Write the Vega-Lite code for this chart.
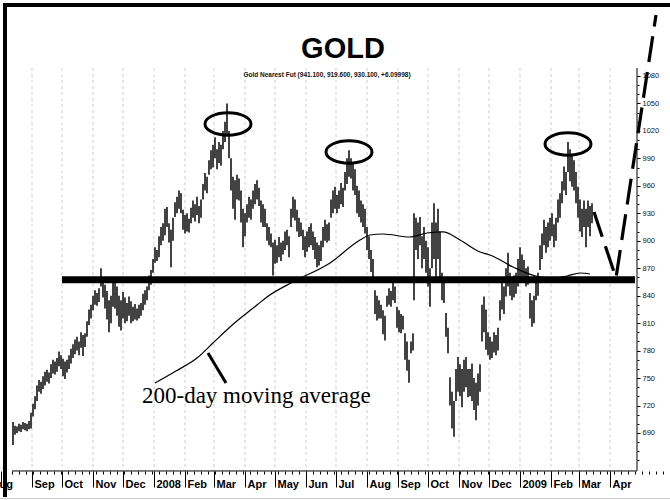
{
  "$schema": "https://vega.github.io/schema/vega-lite/v6.json",
  "width": 670,
  "height": 500,
  "autosize": {"type": "none"},
  "padding": 0,
  "background": "white",
  "config": {"view": {"stroke": null}},
  "title": {"text": "GOLD", "font": "Liberation Sans", "fontSize": 29, "fontWeight": "bold", "color": "black", "anchor": "middle", "frame": "group", "offset": -64, "dx": 8},
  "datasets": {
    "months": [
      {"m": "2007-09-01"}, {"m": "2007-10-01"}, {"m": "2007-11-01"}, {"m": "2007-12-01"},
      {"m": "2008-01-01"}, {"m": "2008-02-01"}, {"m": "2008-03-01"}, {"m": "2008-04-01"},
      {"m": "2008-05-01"}, {"m": "2008-06-01"}, {"m": "2008-07-01"}, {"m": "2008-08-01"},
      {"m": "2008-09-01"}, {"m": "2008-10-01"}, {"m": "2008-11-01"}, {"m": "2008-12-01"},
      {"m": "2009-01-01"}, {"m": "2009-02-01"}, {"m": "2009-03-01"}, {"m": "2009-04-01"}
    ],
    "px": [
      {"d":"2007-08-13","h":702,"l":677},{"d":"2007-08-15","h":698,"l":688},{"d":"2007-08-17","h":697,"l":690},
      {"d":"2007-08-19","h":700,"l":692},{"d":"2007-08-21","h":699,"l":691},{"d":"2007-08-23","h":702,"l":694},
      {"d":"2007-08-25","h":701,"l":693},{"d":"2007-08-27","h":700,"l":692},{"d":"2007-08-29","h":703,"l":694},
      {"d":"2007-08-31","h":712,"l":695},{"d":"2007-09-02","h":722,"l":708},{"d":"2007-09-04","h":730,"l":716},
      {"d":"2007-09-06","h":742,"l":725},{"d":"2007-09-08","h":748,"l":735},{"d":"2007-09-10","h":746,"l":733},
      {"d":"2007-09-12","h":752,"l":738},{"d":"2007-09-14","h":757,"l":742},{"d":"2007-09-16","h":759,"l":746},
      {"d":"2007-09-18","h":756,"l":744},{"d":"2007-09-20","h":765,"l":750},{"d":"2007-09-22","h":770,"l":755},
      {"d":"2007-09-24","h":768,"l":754},{"d":"2007-09-26","h":772,"l":757},{"d":"2007-09-28","h":779,"l":763},
      {"d":"2007-09-30","h":775,"l":760},{"d":"2007-10-02","h":771,"l":752},{"d":"2007-10-04","h":768,"l":749},
      {"d":"2007-10-06","h":770,"l":756},{"d":"2007-10-08","h":775,"l":760},{"d":"2007-10-10","h":782,"l":766},
      {"d":"2007-10-12","h":787,"l":772},{"d":"2007-10-14","h":792,"l":776},{"d":"2007-10-16","h":795,"l":780},
      {"d":"2007-10-18","h":790,"l":775},{"d":"2007-10-20","h":800,"l":783},{"d":"2007-10-22","h":797,"l":774},
      {"d":"2007-10-24","h":799,"l":784},{"d":"2007-10-26","h":812,"l":795},{"d":"2007-10-28","h":825,"l":808},
      {"d":"2007-10-30","h":830,"l":815},{"d":"2007-11-01","h":840,"l":824},{"d":"2007-11-03","h":846,"l":830},
      {"d":"2007-11-05","h":843,"l":829},{"d":"2007-11-07","h":848,"l":833},{"d":"2007-11-09","h":870,"l":850},
      {"d":"2007-11-11","h":860,"l":838},{"d":"2007-11-13","h":852,"l":826},{"d":"2007-11-15","h":845,"l":814},
      {"d":"2007-11-17","h":835,"l":800},{"d":"2007-11-19","h":840,"l":810},{"d":"2007-11-21","h":854,"l":828},
      {"d":"2007-11-23","h":857,"l":826},{"d":"2007-11-25","h":850,"l":818},{"d":"2007-11-27","h":840,"l":806},
      {"d":"2007-11-29","h":835,"l":802},{"d":"2007-12-01","h":844,"l":815},{"d":"2007-12-03","h":838,"l":810},
      {"d":"2007-12-05","h":832,"l":812},{"d":"2007-12-07","h":839,"l":818},{"d":"2007-12-09","h":834,"l":810},
      {"d":"2007-12-11","h":828,"l":812},{"d":"2007-12-13","h":831,"l":814},{"d":"2007-12-15","h":826,"l":813},
      {"d":"2007-12-17","h":830,"l":815},{"d":"2007-12-19","h":832,"l":818},{"d":"2007-12-21","h":842,"l":824},
      {"d":"2007-12-23","h":846,"l":830},{"d":"2007-12-25","h":850,"l":835},{"d":"2007-12-27","h":862,"l":846},
      {"d":"2007-12-29","h":868,"l":852},{"d":"2007-12-31","h":880,"l":865},{"d":"2008-01-02","h":893,"l":876},
      {"d":"2008-01-04","h":890,"l":878},{"d":"2008-01-06","h":905,"l":882},{"d":"2008-01-08","h":915,"l":895},
      {"d":"2008-01-10","h":919,"l":900},{"d":"2008-01-12","h":935,"l":906},{"d":"2008-01-14","h":937,"l":915},
      {"d":"2008-01-16","h":919,"l":898},{"d":"2008-01-18","h":912,"l":871},{"d":"2008-01-20","h":925,"l":900},
      {"d":"2008-01-22","h":942,"l":926},{"d":"2008-01-24","h":948,"l":930},{"d":"2008-01-26","h":955,"l":935},
      {"d":"2008-01-28","h":952,"l":930},{"d":"2008-01-30","h":934,"l":912},{"d":"2008-02-01","h":928,"l":908},
      {"d":"2008-02-03","h":930,"l":910},{"d":"2008-02-05","h":924,"l":909},{"d":"2008-02-07","h":936,"l":919},
      {"d":"2008-02-09","h":944,"l":925},{"d":"2008-02-11","h":940,"l":921},{"d":"2008-02-13","h":948,"l":928},
      {"d":"2008-02-15","h":938,"l":919},{"d":"2008-02-17","h":945,"l":925},{"d":"2008-02-19","h":962,"l":945},
      {"d":"2008-02-21","h":974,"l":955},{"d":"2008-02-23","h":970,"l":952},{"d":"2008-02-25","h":988,"l":972},
      {"d":"2008-02-27","h":999,"l":978},{"d":"2008-02-29","h":1005,"l":980},{"d":"2008-03-02","h":1013,"l":990},
      {"d":"2008-03-04","h":1000,"l":978},{"d":"2008-03-06","h":1008,"l":985},{"d":"2008-03-08","h":1005,"l":982},
      {"d":"2008-03-10","h":1020,"l":1000},{"d":"2008-03-12","h":1030,"l":1008},{"d":"2008-03-14","h":1050,"l":1015},
      {"d":"2008-03-16","h":1020,"l":990},{"d":"2008-03-18","h":990,"l":955},{"d":"2008-03-20","h":970,"l":935},
      {"d":"2008-03-22","h":966,"l":923},{"d":"2008-03-24","h":972,"l":945},{"d":"2008-03-26","h":968,"l":944},
      {"d":"2008-03-28","h":955,"l":920},{"d":"2008-03-30","h":935,"l":893},{"d":"2008-04-01","h":930,"l":905},
      {"d":"2008-04-03","h":940,"l":920},{"d":"2008-04-05","h":948,"l":925},{"d":"2008-04-07","h":945,"l":923},
      {"d":"2008-04-09","h":955,"l":935},{"d":"2008-04-11","h":962,"l":940},{"d":"2008-04-13","h":966,"l":945},
      {"d":"2008-04-15","h":958,"l":938},{"d":"2008-04-17","h":944,"l":920},{"d":"2008-04-19","h":940,"l":915},
      {"d":"2008-04-21","h":935,"l":915},{"d":"2008-04-23","h":919,"l":900},{"d":"2008-04-25","h":915,"l":895},
      {"d":"2008-04-27","h":908,"l":893},{"d":"2008-04-29","h":898,"l":862},{"d":"2008-05-01","h":901,"l":875},
      {"d":"2008-05-03","h":895,"l":876},{"d":"2008-05-05","h":904,"l":882},{"d":"2008-05-07","h":898,"l":878},
      {"d":"2008-05-09","h":900,"l":885},{"d":"2008-05-11","h":910,"l":890},{"d":"2008-05-13","h":912,"l":895},
      {"d":"2008-05-15","h":905,"l":882},{"d":"2008-05-17","h":935,"l":915},{"d":"2008-05-19","h":948,"l":925},
      {"d":"2008-05-21","h":945,"l":922},{"d":"2008-05-23","h":934,"l":910},{"d":"2008-05-25","h":925,"l":904},
      {"d":"2008-05-27","h":920,"l":905},{"d":"2008-05-29","h":912,"l":890},{"d":"2008-05-31","h":905,"l":882},
      {"d":"2008-06-02","h":910,"l":888},{"d":"2008-06-04","h":915,"l":893},{"d":"2008-06-06","h":919,"l":895},
      {"d":"2008-06-08","h":910,"l":890},{"d":"2008-06-10","h":904,"l":880},{"d":"2008-06-12","h":898,"l":871},
      {"d":"2008-06-14","h":895,"l":873},{"d":"2008-06-16","h":900,"l":878},{"d":"2008-06-18","h":915,"l":893},
      {"d":"2008-06-20","h":923,"l":900},{"d":"2008-06-22","h":918,"l":898},{"d":"2008-06-24","h":920,"l":900},
      {"d":"2008-06-26","h":945,"l":925},{"d":"2008-06-28","h":955,"l":930},{"d":"2008-06-30","h":959,"l":935},
      {"d":"2008-07-02","h":950,"l":930},{"d":"2008-07-04","h":955,"l":935},{"d":"2008-07-06","h":963,"l":940},
      {"d":"2008-07-08","h":958,"l":937},{"d":"2008-07-10","h":975,"l":955},{"d":"2008-07-12","h":990,"l":962},
      {"d":"2008-07-14","h":999,"l":970},{"d":"2008-07-16","h":990,"l":968},{"d":"2008-07-18","h":985,"l":955},
      {"d":"2008-07-20","h":978,"l":950},{"d":"2008-07-22","h":960,"l":930},{"d":"2008-07-24","h":955,"l":926},
      {"d":"2008-07-26","h":944,"l":920},{"d":"2008-07-28","h":940,"l":915},{"d":"2008-07-30","h":935,"l":908},
      {"d":"2008-08-01","h":915,"l":890},{"d":"2008-08-03","h":905,"l":880},{"d":"2008-08-05","h":890,"l":866},
      {"d":"2008-08-07","h":880,"l":860},{"d":"2008-08-09","h":846,"l":820},{"d":"2008-08-11","h":840,"l":813},
      {"d":"2008-08-13","h":835,"l":815},{"d":"2008-08-15","h":830,"l":815},{"d":"2008-08-17","h":824,"l":798},
      {"d":"2008-08-19","h":818,"l":791},{"d":"2008-08-21","h":840,"l":828},{"d":"2008-08-23","h":848,"l":830},
      {"d":"2008-08-25","h":845,"l":828},{"d":"2008-08-27","h":854,"l":835},{"d":"2008-08-29","h":850,"l":832},
      {"d":"2008-08-31","h":828,"l":805},{"d":"2008-09-02","h":824,"l":800},{"d":"2008-09-04","h":820,"l":799},
      {"d":"2008-09-06","h":818,"l":803},{"d":"2008-09-08","h":799,"l":770},{"d":"2008-09-10","h":790,"l":758},
      {"d":"2008-09-12","h":770,"l":745},{"d":"2008-09-14","h":790,"l":777},{"d":"2008-09-16","h":799,"l":780},
      {"d":"2008-09-17","h":930,"l":835},{"d":"2008-09-19","h":925,"l":890},{"d":"2008-09-21","h":920,"l":880},
      {"d":"2008-09-23","h":926,"l":895},{"d":"2008-09-25","h":905,"l":870},{"d":"2008-09-27","h":915,"l":880},
      {"d":"2008-09-29","h":900,"l":865},{"d":"2008-10-01","h":893,"l":850},{"d":"2008-10-03","h":870,"l":828},
      {"d":"2008-10-05","h":920,"l":870},{"d":"2008-10-07","h":941,"l":880},{"d":"2008-10-09","h":920,"l":854},
      {"d":"2008-10-11","h":935,"l":880},{"d":"2008-10-13","h":910,"l":860},{"d":"2008-10-15","h":865,"l":835},
      {"d":"2008-10-17","h":860,"l":832},{"d":"2008-10-19","h":821,"l":795},{"d":"2008-10-21","h":805,"l":777},
      {"d":"2008-10-23","h":751,"l":720},{"d":"2008-10-25","h":735,"l":695},{"d":"2008-10-27","h":725,"l":686},
      {"d":"2008-10-29","h":760,"l":725},{"d":"2008-10-31","h":773,"l":735},{"d":"2008-11-02","h":765,"l":730},
      {"d":"2008-11-04","h":760,"l":718},{"d":"2008-11-06","h":770,"l":735},{"d":"2008-11-08","h":773,"l":740},
      {"d":"2008-11-10","h":760,"l":729},{"d":"2008-11-12","h":760,"l":730},{"d":"2008-11-14","h":766,"l":725},
      {"d":"2008-11-16","h":750,"l":715},{"d":"2008-11-18","h":745,"l":704},{"d":"2008-11-20","h":755,"l":720},
      {"d":"2008-11-22","h":765,"l":735},{"d":"2008-11-24","h":830,"l":790},{"d":"2008-11-26","h":839,"l":800},
      {"d":"2008-11-28","h":825,"l":781},{"d":"2008-11-30","h":800,"l":775},{"d":"2008-12-02","h":795,"l":770},
      {"d":"2008-12-04","h":790,"l":772},{"d":"2008-12-06","h":800,"l":778},{"d":"2008-12-08","h":797,"l":775},
      {"d":"2008-12-10","h":805,"l":780},{"d":"2008-12-12","h":835,"l":813},{"d":"2008-12-14","h":854,"l":825},
      {"d":"2008-12-16","h":850,"l":820},{"d":"2008-12-18","h":870,"l":839},{"d":"2008-12-20","h":887,"l":850},
      {"d":"2008-12-22","h":865,"l":840},{"d":"2008-12-24","h":860,"l":835},{"d":"2008-12-26","h":862,"l":838},
      {"d":"2008-12-28","h":865,"l":842},{"d":"2008-12-30","h":880,"l":850},{"d":"2009-01-01","h":893,"l":860},
      {"d":"2009-01-03","h":885,"l":858},{"d":"2009-01-05","h":879,"l":855},{"d":"2009-01-07","h":870,"l":850},
      {"d":"2009-01-09","h":872,"l":852},{"d":"2009-01-11","h":843,"l":815},{"d":"2009-01-13","h":835,"l":806},
      {"d":"2009-01-15","h":840,"l":810},{"d":"2009-01-17","h":855,"l":835},{"d":"2009-01-19","h":865,"l":840},
      {"d":"2009-01-21","h":895,"l":868},{"d":"2009-01-23","h":908,"l":880},{"d":"2009-01-25","h":923,"l":895},
      {"d":"2009-01-27","h":915,"l":887},{"d":"2009-01-29","h":920,"l":893},{"d":"2009-01-31","h":925,"l":900},
      {"d":"2009-02-02","h":930,"l":905},{"d":"2009-02-04","h":918,"l":893},{"d":"2009-02-06","h":925,"l":900},
      {"d":"2009-02-08","h":945,"l":920},{"d":"2009-02-10","h":952,"l":925},{"d":"2009-02-12","h":965,"l":941},
      {"d":"2009-02-14","h":981,"l":955},{"d":"2009-02-16","h":975,"l":950},{"d":"2009-02-18","h":1008,"l":975},
      {"d":"2009-02-20","h":1000,"l":965},{"d":"2009-02-22","h":995,"l":959},{"d":"2009-02-24","h":988,"l":955},
      {"d":"2009-02-26","h":975,"l":941},{"d":"2009-02-28","h":959,"l":925},{"d":"2009-03-02","h":945,"l":910},
      {"d":"2009-03-04","h":935,"l":904},{"d":"2009-03-06","h":944,"l":915},{"d":"2009-03-08","h":935,"l":893},
      {"d":"2009-03-10","h":944,"l":915},{"d":"2009-03-12","h":938,"l":905},{"d":"2009-03-14","h":941,"l":919}
    ],
    "ma": [
      {"d":"2008-01-02","v":744.6},{"d":"2008-01-23","v":757.7},{"d":"2008-02-13","v":771.9},
      {"d":"2008-02-29","v":788.3},{"d":"2008-03-17","v":805.8},{"d":"2008-04-13","v":829.8},
      {"d":"2008-04-23","v":838.6},{"d":"2008-05-19","v":855.0},{"d":"2008-06-25","v":875.7},
      {"d":"2008-07-25","v":900.8},{"d":"2008-08-04","v":906.3},{"d":"2008-08-17","v":907.4},
      {"d":"2008-09-13","v":904.1},{"d":"2008-09-30","v":908.5},{"d":"2008-10-16","v":909.6},
      {"d":"2008-11-02","v":900.8},{"d":"2008-11-22","v":887.7},{"d":"2008-12-02","v":884.5},
      {"d":"2008-12-25","v":871.3},{"d":"2009-01-21","v":860.4},{"d":"2009-02-05","v":859.3},
      {"d":"2009-02-17","v":861.5},{"d":"2009-03-02","v":864.8},{"d":"2009-03-12","v":863.7}
    ],
    "peaks": [
      {"d":"2008-03-15","v":1027.6},{"d":"2008-07-14","v":997.0},{"d":"2009-02-18","v":1005.7}
    ],
    "proj": [
      {"d":"2009-03-16","v":931.4},{"d":"2009-04-07","v":859.3},{"d":"2009-05-17","v":1146.6}
    ]
  },
  "layer": [
    {
      "data": {"name": "months"},
      "mark": {"type": "rule", "color": "#cfcfcf", "strokeWidth": 1, "strokeDash": [3, 3]},
      "encoding": {
        "x": {"field": "m", "type": "temporal",
          "scale": {"type": "utc", "nice": false, "domain": [{"year":2007,"month":7,"date":31,"utc":true},{"year":2009,"month":5,"date":31,"utc":true}]},
          "axis": null},
        "y": {"datum": 1088.7, "type": "quantitative", "axis": null},
        "y2": {"datum": 648.5}
      }
    },
    {
      "data": {"name": "px"},
      "mark": {"type": "rule", "color": "#222222", "strokeWidth": 1.7},
      "encoding": {
        "x": {"field": "d", "type": "temporal",
          "scale": {"type": "utc", "nice": false, "domain": [{"year":2007,"month":7,"date":31,"utc":true},{"year":2009,"month":5,"date":31,"utc":true}]},
          "axis": {"orient": "bottom", "offset": -29, "title": null, "domain": false, "grid": false,
            "values": [
              {"year":2007,"month":8,"date":1,"utc":true},{"year":2007,"month":9,"date":1,"utc":true},{"year":2007,"month":10,"date":1,"utc":true},
              {"year":2007,"month":11,"date":1,"utc":true},{"year":2007,"month":12,"date":1,"utc":true},{"year":2008,"month":1,"date":1,"utc":true},
              {"year":2008,"month":2,"date":1,"utc":true},{"year":2008,"month":3,"date":1,"utc":true},{"year":2008,"month":4,"date":1,"utc":true},
              {"year":2008,"month":5,"date":1,"utc":true},{"year":2008,"month":6,"date":1,"utc":true},{"year":2008,"month":7,"date":1,"utc":true},
              {"year":2008,"month":8,"date":1,"utc":true},{"year":2008,"month":9,"date":1,"utc":true},{"year":2008,"month":10,"date":1,"utc":true},
              {"year":2008,"month":11,"date":1,"utc":true},{"year":2008,"month":12,"date":1,"utc":true},{"year":2009,"month":1,"date":1,"utc":true},
              {"year":2009,"month":2,"date":1,"utc":true},{"year":2009,"month":3,"date":1,"utc":true},{"year":2009,"month":4,"date":1,"utc":true}
            ],
            "labelExpr": "utcmonth(datum.value) == 0 ? utcFormat(datum.value, '%Y') : utcFormat(datum.value, '%b')",
            "tickSize": 16, "tickColor": "black", "tickWidth": 1,
            "labelAlign": "left", "labelBaseline": "top", "labelPadding": -9,
            "labelOffset": {"condition": {"test": "datum.value < utc(2007,7,15)", "value": -10}, "value": 2},
            "labelFont": "Liberation Sans", "labelFontSize": 11, "labelFontWeight": "bold", "labelColor": "black",
            "labelOverlap": false, "labelFlush": false, "labelBound": false}},
        "y": {"field": "l", "type": "quantitative",
          "scale": {"domain": [616.8, 1163.0], "nice": false, "zero": false},
          "axis": {"orient": "right", "offset": -33, "title": null, "domain": false, "grid": false,
            "values": [690, 720, 750, 780, 810, 840, 870, 900, 930, 960, 990, 1020, 1050, 1080],
            "format": "d", "tickSize": 3, "tickColor": "black",
            "labelFont": "Liberation Sans", "labelFontSize": 7.5, "labelColor": "#111111", "labelPadding": 2, "labelOverlap": false}},
        "y2": {"field": "h"}
      }
    },
    {
      "data": {"name": "ma"},
      "mark": {"type": "line", "color": "black", "strokeWidth": 1.2, "interpolate": "monotone"},
      "encoding": {
        "x": {"field": "d", "type": "temporal",
          "axis": {"orient": "bottom", "offset": -29, "tickCount": {"interval": "week", "step": 1}, "labels": false, "domain": false, "grid": false, "tickSize": 3, "tickColor": "black", "title": null}},
        "y": {"field": "v", "type": "quantitative",
          "scale": {"domain": [616.8, 1163.0], "nice": false, "zero": false},
          "axis": {"orient": "right", "offset": -33, "title": null, "domain": false, "grid": false, "labels": false,
            "values": [660, 670, 680, 690, 700, 710, 720, 730, 740, 750, 760, 770, 780, 790, 800, 810, 820, 830, 840, 850, 860, 870, 880, 890, 900, 910, 920, 930, 940, 950, 960, 970, 980, 990, 1000, 1010, 1020, 1030, 1040, 1050, 1060, 1070, 1080],
            "tickSize": 2, "tickColor": "black"}}
      }
    },
    {
      "data": {"values": [{}]},
      "mark": {"type": "rule", "color": "black", "strokeWidth": 1},
      "encoding": {
        "x": {"datum": {"year":2007,"month":8,"date":12,"utc":true}, "type": "temporal", "axis": null},
        "x2": {"datum": {"year":2009,"month":4,"date":28,"utc":true}},
        "y": {"datum": 648.5, "type": "quantitative", "axis": null}
      }
    },
    {
      "data": {"values": [{}]},
      "mark": {"type": "rule", "color": "black", "strokeWidth": 1},
      "encoding": {
        "x": {"datum": {"year":2009,"month":4,"date":28,"utc":true}, "type": "temporal", "axis": null},
        "y": {"datum": 1088.7, "type": "quantitative", "axis": null},
        "y2": {"datum": 648.5}
      }
    },
    {
      "data": {"values": [{}]},
      "mark": {"type": "rule", "color": "black", "strokeWidth": 7},
      "encoding": {
        "x": {"datum": {"year":2007,"month":10,"date":1,"utc":true}, "type": "temporal", "axis": null},
        "x2": {"datum": {"year":2009,"month":4,"date":26,"utc":true}},
        "y": {"datum": 857.3, "type": "quantitative", "axis": null}
      }
    },
    {
      "data": {"name": "peaks"},
      "mark": {"type": "point", "shape": "M-1,0C-1,-0.27,-0.55,-0.49,0,-0.49C0.55,-0.49,1,-0.27,1,0C1,0.27,0.55,0.49,0,0.49C-0.55,0.49,-1,0.27,-1,0Z", "size": 2116, "filled": false, "color": "black", "strokeWidth": 3, "opacity": 1},
      "encoding": {
        "x": {"field": "d", "type": "temporal", "axis": null},
        "y": {"field": "v", "type": "quantitative", "axis": null}
      }
    },
    {
      "data": {"name": "proj"},
      "mark": {"type": "line", "color": "black", "strokeWidth": 3.2, "strokeDash": [26, 10], "clip": false},
      "encoding": {
        "x": {"field": "d", "type": "temporal", "axis": null},
        "y": {"field": "v", "type": "quantitative", "axis": null}
      }
    },
    {
      "data": {"values": [{}]},
      "mark": {"type": "rule", "color": "black", "strokeWidth": 3},
      "encoding": {
        "x": {"datum": {"year":2008,"month":2,"date":24,"utc":true}, "type": "temporal", "axis": null},
        "x2": {"datum": {"year":2008,"month":3,"date":13,"utc":true}},
        "y": {"datum": 777.4, "type": "quantitative", "axis": null},
        "y2": {"datum": 744.6}
      }
    },
    {
      "data": {"values": [{}]},
      "mark": {"type": "text", "font": "Liberation Serif", "fontSize": 23, "align": "left", "baseline": "alphabetic", "color": "black"},
      "encoding": {
        "x": {"datum": {"year":2007,"month":12,"date":20,"utc":true}, "type": "temporal", "axis": null},
        "y": {"datum": 722.8, "type": "quantitative", "axis": null},
        "text": {"value": "200-day moving average"}
      }
    },
    {
      "data": {"values": [{}]},
      "mark": {"type": "text", "font": "Liberation Sans", "fontSize": 6.5, "fontWeight": "bold", "align": "center", "baseline": "middle", "color": "#111111"},
      "encoding": {
        "x": {"datum": {"year":2008,"month":6,"date":22,"utc":true}, "type": "temporal", "axis": null},
        "y": {"datum": 1081.1, "type": "quantitative", "axis": null},
        "text": {"value": "Gold Nearest Fut (941.100, 919.600, 930.100, +6.09998)"}
      }
    },
    {
      "data": {"values": [{}]},
      "mark": {"type": "rule", "color": "black", "strokeWidth": 4},
      "encoding": {
        "x": {"datum": {"year":2007,"month":8,"date":5,"utc":true}, "type": "temporal", "axis": null},
        "y": {"datum": 1159.7, "type": "quantitative", "axis": null},
        "y2": {"datum": 620.0}
      }
    },
    {
      "data": {"values": [{}]},
      "mark": {"type": "rule", "color": "black", "strokeWidth": 4},
      "encoding": {
        "x": {"datum": {"year":2007,"month":8,"date":3,"utc":true}, "type": "temporal", "axis": null},
        "x2": {"datum": {"year":2009,"month":5,"date":31,"utc":true}},
        "y": {"datum": 1157.5, "type": "quantitative", "axis": null}
      }
    },
    {
      "data": {"values": [{}]},
      "mark": {"type": "rule", "color": "#cccccc", "strokeWidth": 1},
      "encoding": {
        "x": {"datum": {"year":2007,"month":7,"date":31,"utc":true}, "type": "temporal", "axis": null},
        "x2": {"datum": {"year":2009,"month":5,"date":31,"utc":true}},
        "y": {"datum": 618.4, "type": "quantitative", "axis": null}
      }
    }
  ],
  "resolve": {"axis": {"x": "independent", "y": "independent"}}
}
